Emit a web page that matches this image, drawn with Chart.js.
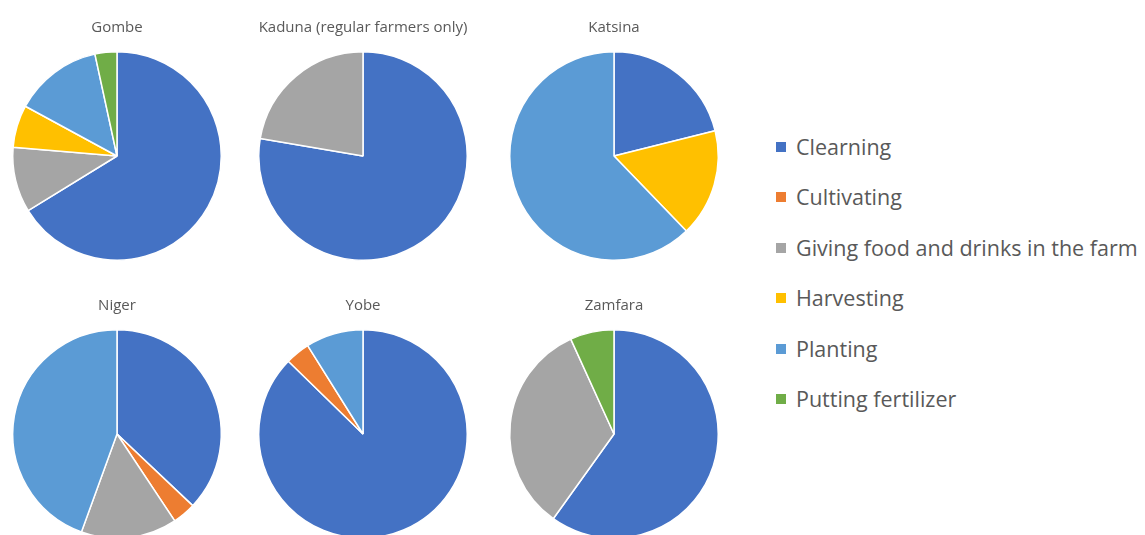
<!DOCTYPE html>
<html>
<head>
<meta charset="utf-8">
<title>Farm activities by state</title>
<script src="https://cdn.jsdelivr.net/npm/chart.js@4/dist/chart.umd.min.js"></script>
<style>
  html, body { margin: 0; padding: 0; background: #fff; overflow: hidden; }
  #page { position: relative; width: 1145px; height: 535px; overflow: hidden; }
  #page canvas { position: absolute; }
  #legend { position: absolute; left: 776px; top: 132px; font-family: "Open Sans", sans-serif; font-size: 21.5px; color: #595959; }
  #legend .item { height: 50.4px; display: flex; align-items: flex-start; white-space: nowrap; }
  #legend .box { width: 10px; height: 10px; margin-top: 10px; margin-right: 10px; }
</style>
</head>
<body>
<div id="page">
  <div id="legend"></div>
</div>
<script>
// categories (legend order) and the states
const categories = ['Clearning', 'Cultivating', 'Giving food and drinks in the farm', 'Harvesting', 'Planting', 'Putting fertilizer'];
const states = ['Gombe', 'Kaduna (regular farmers only)', 'Katsina', 'Niger', 'Yobe', 'Zamfara'];

// shares (%), same order as categories
const gombe = [66.3, 0, 10.1, 6.6, 13.7, 3.4];
const kaduna = [77.7, 0, 22.3, 0, 0, 0];
const katsina = [21.1, 0, 0, 16.7, 62.2, 0];
const niger = [37.1, 3.6, 14.9, 0, 44.5, 0];
const yobe = [87.3, 3.8, 0, 0, 8.9, 0];
const zamfara = [59.9, 0, 33.3, 0, 0, 6.8];

const colors = ['#4472C4', '#ED7D31', '#A5A5A5', '#FFC000', '#5B9BD5', '#70AD47'];

// where each pie canvas sits
const slots = [
  { left: 2, top: 0 }, { left: 248, top: 0 }, { left: 499, top: 0 },
  { left: 2, top: 278 }, { left: 248, top: 278 }, { left: 499, top: 278 }
];

function buildLegend() {
  const legend = document.getElementById('legend');
  categories.forEach(function (name, i) {
    const item = document.createElement('div');
    item.className = 'item';
    const box = document.createElement('span');
    box.className = 'box';
    box.style.background = colors[i];
    const label = document.createElement('span');
    label.textContent = name;
    item.appendChild(box);
    item.appendChild(label);
    legend.appendChild(item);
  });
}

function drawPie(title, values, slot) {
  const canvas = document.createElement('canvas');
  canvas.width = 230;
  canvas.height = 261;
  canvas.style.left = slot.left + 'px';
  canvas.style.top = slot.top + 'px';
  document.getElementById('page').appendChild(canvas);

  new Chart(canvas.getContext('2d'), {
    type: 'pie',
    data: {
      labels: categories,
      datasets: [{
        data: values,
        backgroundColor: colors,
        borderColor: '#ffffff',
        borderWidth: 1.5
      }]
    },
    options: {
      responsive: false,
      animation: false,
      layout: { padding: 0 },
      plugins: {
        legend: { display: false },
        tooltip: { enabled: false },
        title: {
          display: true,
          text: title,
          color: '#595959',
          font: { family: '"Open Sans", sans-serif', size: 15, weight: 'normal' },
          padding: { top: 18.5, bottom: 14.5 }
        }
      }
    }
  });
}

document.addEventListener('DOMContentLoaded', function () {
  buildLegend();
  const series = [gombe, kaduna, katsina, niger, yobe, zamfara];
  states.forEach(function (name, i) {
    drawPie(name, series[i], slots[i]);
  });
});
</script>
</body>
</html>
